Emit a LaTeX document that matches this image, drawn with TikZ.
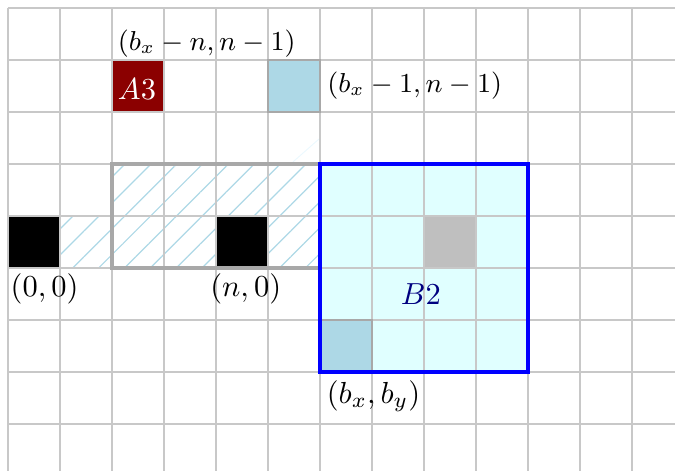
\documentclass[tikz,border=0pt]{standalone}
\usetikzlibrary{patterns.meta}
\definecolor{lblue}{HTML}{ADD8E6}
\definecolor{lcyan}{HTML}{E0FFFF}
\definecolor{dred}{HTML}{8B0000}
\definecolor{dblue}{HTML}{000080}
\definecolor{gridc}{HTML}{C8C8C8}
\definecolor{bordc}{HTML}{A8A8A8}
\tikzset{
  gridline/.style={draw=gridc, line width=0.5pt},
  hatch/.style={pattern={Lines[angle=45,distance=6pt,line width=0.4pt]}, pattern color=lblue},
  cellborder/.style={draw=bordc, line width=0.6pt},
  rectborder/.style={draw=bordc, line width=1pt},
  bluebox/.style={draw=blue, line width=1.3pt},
  lbl/.style={inner sep=0pt, anchor=base west},
  smalllbl/.style={inner sep=0pt, anchor=base west, font=\small},
}
\begin{document}
\begin{tikzpicture}[x=0.6cm,y=0.6cm]
\useasboundingbox (-0.1538,-3.8846) rectangle (12.827,5.1538);
\clip (-0.1538,-3.8846) rectangle (12.827,5.1538);
% hatched region
\fill[hatch] (1,0) rectangle (6,1);
\fill[hatch] (2,1) rectangle (6,2);
\draw[cyan!8, line width=0.3pt] (5.48,2.04) -- (5.98,2.48);
% B2 block
\fill[lcyan] (6,-2) rectangle (10,2);
\fill[black!25] (8,0) rectangle (9,1);
\fill[lblue] (6,-2) rectangle (7,-1);
% black cells
\fill[black] (0,0) rectangle (1,1);
\fill[black] (4,0) rectangle (5,1);
% A3 and light blue cell
\fill[dred] (2,3) rectangle (3,4);
\fill[lblue] (5,3) rectangle (6,4);
% grid
\draw[gridline, step=0.6cm] (0,-4) grid (13,5);
% borders
\draw[cellborder] (5,3) rectangle (6,4);
\draw[cellborder] (6,-2) rectangle (7,-1);
\draw[rectborder] (2,0) rectangle (6,2);
\draw[bluebox] (6,-2) rectangle (10,2);
% texts
\node[text=white] (a3) at (2.48,3.45) {$A3$};
\node[text=dblue] (b2) at (7.94,-0.5) {$B2$};
\node[lbl] (l00) at (0.04,-0.55) {$(0,0)$};
\node[lbl] (ln0) at (3.88,-0.55) {$(n,0)$};
\node[lbl] (lbxby) at (6.12,-2.6) {$(b_x,b_y)$};
\node[smalllbl] (lbxn) at (2.1,4.19) {$(b_x-n,n-1)$};
\node[smalllbl] (lbx1) at (6.13,3.38) {$(b_x-1,n-1)$};
\end{tikzpicture}
\end{document}
